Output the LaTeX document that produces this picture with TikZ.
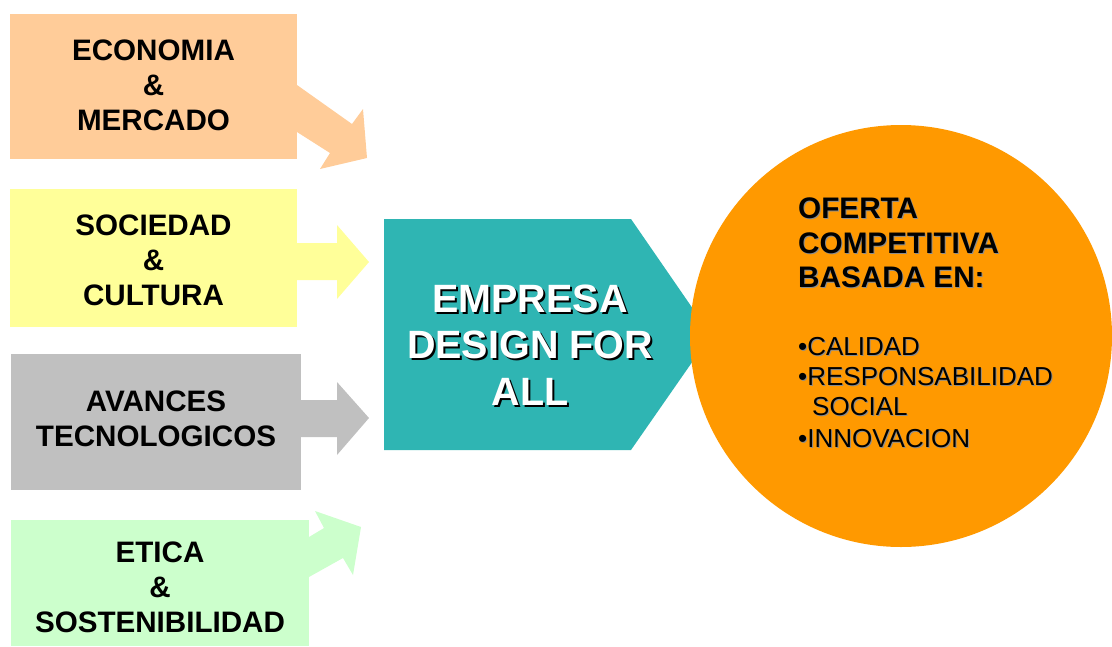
\documentclass[tikz,border=0pt]{standalone}
\usepackage{fontspec}
\setmainfont{Liberation Sans}
\definecolor{peach}{HTML}{FFCC99}
\definecolor{lyellow}{HTML}{FFFF99}
\definecolor{lgray}{HTML}{C0C0C0}
\definecolor{lgreen}{HTML}{CCFFCC}
\definecolor{teal2}{HTML}{2FB5B3}
\definecolor{orng}{HTML}{FF9900}
\tikzset{
  boxbg/.style={rectangle, inner sep=0pt, draw=none},
  lbl/.style={inner sep=0pt, align=center, font=\fontsize{29.6}{35}\selectfont\bfseries, text=black},
  bigtxt/.style={inner sep=0pt, align=center, font=\fontsize{39.5}{46.5}\selectfont\bfseries},
  ttl/.style={inner sep=0pt, anchor=base west, font=\fontsize{29.7}{34}\selectfont\bfseries},
  itm/.style={inner sep=0pt, anchor=base west, font=\fontsize{26}{30}\selectfont},
  shd/.style={text=black!45},
}
\begin{document}
\begin{tikzpicture}[x=1pt,y=-1pt]
\useasboundingbox (0,0) rectangle (1112,646);
% block arrows
\fill[peach] (280,85) -- (297,85) -- (352,124) -- (363,109) -- (367,158) -- (320,169) -- (330,153) -- (297,132) -- (280,132) -- cycle;
\fill[lyellow] (280,243) -- (337,243) -- (337,225) -- (369,262) -- (337,299) -- (337,280) -- (280,280) -- cycle;
\fill[lgray] (280,400) -- (337,400) -- (337,382) -- (369,418) -- (337,455) -- (337,437) -- (280,437) -- cycle;
\fill[lgreen] (290,537) -- (309,537) -- (324,528) -- (315,511) -- (361,527) -- (353,575) -- (343,558) -- (309,577) -- (290,577) -- cycle;
% boxes
\node[boxbg, fill=peach, minimum width=287pt, minimum height=145pt] (eco) at (153.5,86.5) {};
\node[boxbg, fill=lyellow, minimum width=287pt, minimum height=138pt] (soc) at (153.5,258) {};
\node[boxbg, fill=lgray, minimum width=290pt, minimum height=136pt] (ava) at (156,422) {};
\node[boxbg, fill=lgreen, minimum width=298pt, minimum height=126pt] (eti) at (160,583) {};
\node[lbl] (ecotxt) at (153.5,85) {ECONOMIA\\\&\\MERCADO};
\node[lbl] (soctxt) at (153.5,260) {SOCIEDAD\\\&\\CULTURA};
\node[lbl] (avatxt) at (156,419) {AVANCES\\TECNOLOGICOS};
\node[lbl] (etitxt) at (160,587) {ETICA\\\&\\SOSTENIBILIDAD};
% teal chevron
\fill[teal2] (384,219) -- (631,219) -- (711,335) -- (631,450) -- (384,450) -- cycle;
\node[bigtxt, text=black] (empsh) at (532,347) {EMPRESA\\DESIGN FOR\\ALL};
\node[bigtxt, text=white] (emp) at (530,345) {EMPRESA\\DESIGN FOR\\ALL};
% circle
\node[circle, fill=orng, inner sep=0pt, minimum size=422pt] (offer) at (901,336) {};
\node[ttl, shd] (t1s) at (799,219) {OFERTA};
\node[ttl, shd] (t2s) at (799,254) {COMPETITIVA};
\node[ttl, shd] (t3s) at (799,288) {BASADA EN:};
\node[ttl] (t1) at (798,218) {OFERTA};
\node[ttl] (t2) at (798,253) {COMPETITIVA};
\node[ttl] (t3) at (798,287) {BASADA EN:};
\node[itm, shd] (i1s) at (799,356) {•CALIDAD};
\node[itm, shd] (i2s) at (799,386) {•RESPONSABILIDAD};
\node[itm, shd] (i3s) at (813,416) {SOCIAL};
\node[itm, shd] (i4s) at (799,448) {•INNOVACION};
\node[itm] (i1) at (798,355) {•CALIDAD};
\node[itm] (i2) at (798,385) {•RESPONSABILIDAD};
\node[itm] (i3) at (812,415) {SOCIAL};
\node[itm] (i4) at (798,447) {•INNOVACION};
\end{tikzpicture}
\end{document}
